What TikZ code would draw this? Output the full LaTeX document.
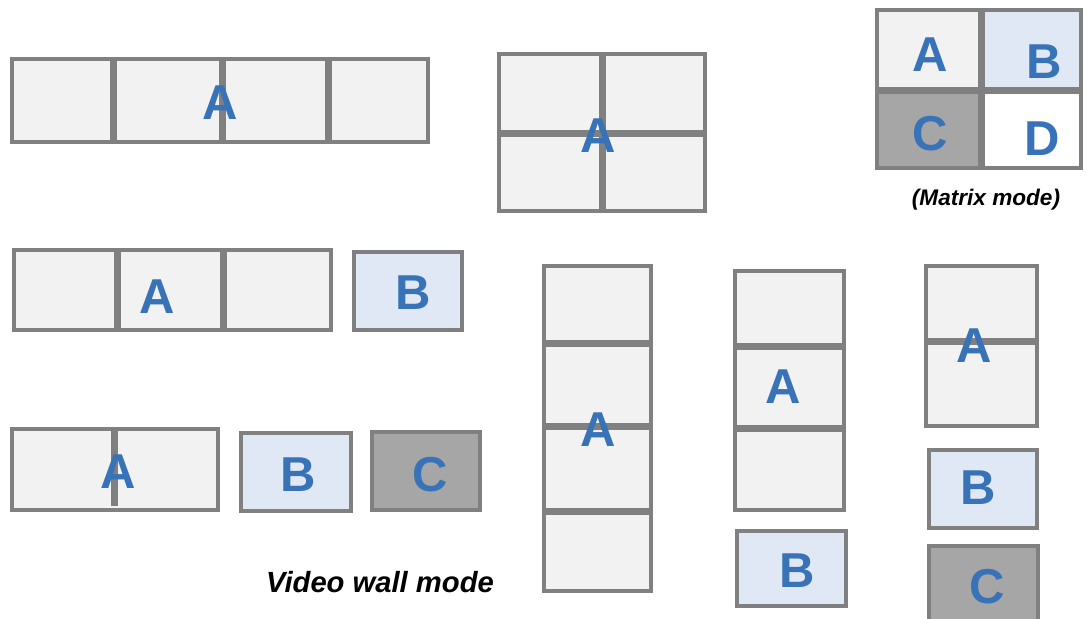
\documentclass[tikz,border=0pt]{standalone}
\usepackage{fontspec}
\setmainfont{Liberation Sans}
\definecolor{panelgray}{RGB}{242,242,242}
\definecolor{panelblue}{RGB}{223,232,244}
\definecolor{paneldark}{RGB}{166,166,166}
\definecolor{framegray}{RGB}{128,128,128}
\definecolor{letterblue}{RGB}{56,115,183}

\begin{document}
\begin{tikzpicture}[x=0.5pt, y=-0.5pt,
		screen/.style = {draw=framegray, line width=2pt},
		divider/.style = {draw=framegray, line width=3.5pt},
		letter/.style = {text=letterblue, font=\fontsize{24.5}{25}\selectfont\bfseries, inner sep=0pt},
		modelabel/.style = {font=\bfseries\itshape, inner sep=0pt}]
		\useasboundingbox (0,0) rectangle (1086,619);
		\draw[screen, fill=panelgray] (12,59) rectangle (428,142);
		\draw[divider] (113,59) -- (113,142);
		\draw[divider] (222,59) -- (222,142);
		\draw[divider] (328,59) -- (328,142);
		\node[letter] (wallA) at (220,103) {A};
		\draw[screen, fill=panelgray] (499,54) rectangle (705,211);
		\draw[divider] (602,54) -- (602,211);
		\draw[divider] (499,134) -- (705,134);
		\node[letter] (quadA) at (598,136) {A};
		\fill[panelgray] (877,10) rectangle (981,91);
		\fill[panelblue] (981,10) rectangle (1081,91);
		\fill[paneldark] (877,91) rectangle (981,168);
		\fill[white] (981,91) rectangle (1081,168);
		\draw[screen] (877,10) rectangle (1081,168);
		\draw[divider] (981,10) -- (981,168);
		\draw[divider] (877,91) -- (1081,91);
		\node[letter] (matrixA) at (930,55) {A};
		\node[letter] (matrixB) at (1044,62) {B};
		\node[letter] (matrixC) at (930,134) {C};
		\node[letter] (matrixD) at (1042,139) {D};
		\node[modelabel, font=\fontsize{11.3}{12}\selectfont\bfseries\itshape] (matrixmode) at (986,200) {(Matrix mode)};
		\draw[screen, fill=panelgray] (14,250) rectangle (331,330);
		\draw[divider] (117,250) -- (117,328);
		\draw[divider] (223,250) -- (223,330);
		\node[letter] (rowtwoA) at (157,297) {A};
		\draw[screen, fill=panelblue] (354,252) rectangle (462,330);
		\node[letter] (rowtwoB) at (413,293) {B};
		\draw[screen, fill=panelgray] (12,429) rectangle (218,510);
		\draw[divider] (114,429) -- (114,506);
		\node[letter] (rowthreeA) at (118,472) {A};
		\draw[screen, fill=panelblue] (241,433) rectangle (351,511);
		\node[letter] (rowthreeB) at (298,475) {B};
		\draw[screen, fill=paneldark] (372,432) rectangle (480,510);
		\node[letter] (rowthreeC) at (430,475) {C};
		\draw[screen, fill=panelgray] (544,266) rectangle (651,591);
		\draw[divider] (544,344) -- (651,344);
		\draw[divider] (544,427) -- (651,427);
		\draw[divider] (544,512) -- (651,512);
		\node[letter] (coloneA) at (598,430) {A};
		\draw[screen, fill=panelgray] (735,271) rectangle (844,510);
		\draw[divider] (735,347) -- (844,347);
		\draw[divider] (735,429) -- (846,429);
		\node[letter] (coltwoA) at (783,387) {A};
		\draw[screen, fill=panelblue] (737,531) rectangle (846,606);
		\node[letter] (coltwoB) at (797,571) {B};
		\draw[screen, fill=panelgray] (926,266) rectangle (1037,426);
		\draw[divider] (926,342) -- (1037,342);
		\node[letter] (colthreeA) at (974,346) {A};
		\draw[screen, fill=panelblue] (929,450) rectangle (1037,528);
		\node[letter] (colthreeB) at (978,488) {B};
		\draw[screen, fill=paneldark] (929,546) rectangle (1038,630);
		\node[letter] (colthreeC) at (987,587) {C};
		\node[modelabel, font=\fontsize{14.6}{16}\selectfont\bfseries\itshape] (wallmode) at (380,582) {Video wall mode};
	\end{tikzpicture}
\end{document}
